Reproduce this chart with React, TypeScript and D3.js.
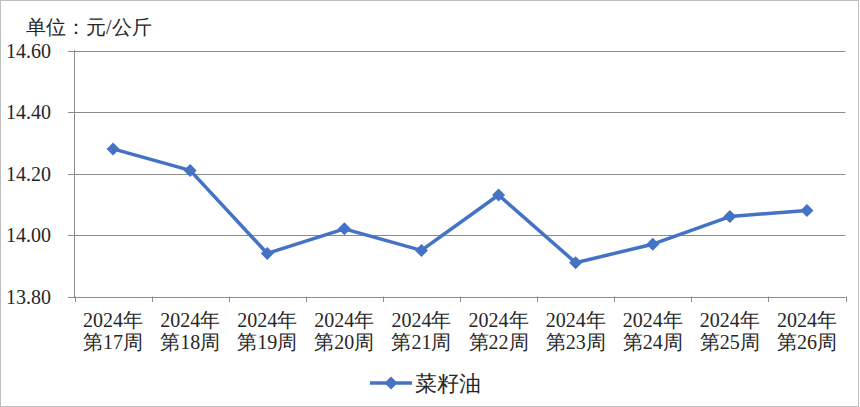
import React from "react";
import * as d3 from "d3";

const categories = ["2024年\n第17周", "2024年\n第18周", "2024年\n第19周", "2024年\n第20周", "2024年\n第21周", "2024年\n第22周", "2024年\n第23周", "2024年\n第24周", "2024年\n第25周", "2024年\n第26周"];
const values = [14.28, 14.21, 13.94, 14.02, 13.95, 14.13, 13.91, 13.97, 14.06, 14.08];
const yTicks = [13.8, 14.0, 14.2, 14.4, 14.6];
const seriesName = "菜籽油";
const unitLabel = "单位：元/公斤";

const W = 860, H = 407;
const FONT = '"Liberation Serif"';
const COLOR = "#4472C4";
const TXT = "#262626";

export default function App() {
  const x = d3.scaleBand().domain(categories).range([74.5, 845.5]).padding(0);
  const y = d3.scaleLinear().domain([13.8, 14.6]).range([296.5, 50.5]);
  const line = d3.line<number>().x((_, i) => x(categories[i])! + x.bandwidth() / 2).y(d => y(d));
  const diamond = (cx: number, cy: number, r: number) => `M${cx},${cy - r}L${cx + r},${cy}L${cx},${cy + r}L${cx - r},${cy}Z`;
  const boundaries = categories.map(c => x(c)!).concat([x.range()[1]]);
  const ts = (size: number): React.CSSProperties => ({ fontFamily: FONT, fontSize: size, fill: TXT });
  return (
    <svg width={W} height={H} style={{ position: "absolute", left: 0, top: 0, background: "#fff" }}>
      <rect x={0.5} y={0.5} width={W - 2} height={H - 1} fill="#fff" stroke="#BFBFBF" />
      <text x={26} y={34} style={ts(20)}>{unitLabel}</text>
      {yTicks.map(t => (
        <g key={t}>
          <line x1={68} x2={845.5} y1={Math.round(y(t)) + 0.5} y2={Math.round(y(t)) + 0.5} stroke="#8C8C8C" strokeWidth={1} />
          <text x={51} y={y(t)} dy="0.35em" textAnchor="end" style={ts(20)}>{t.toFixed(2)}</text>
        </g>
      ))}
      <line x1={74.5} x2={74.5} y1={50} y2={297} stroke="#8C8C8C" />
      {boundaries.map((b, i) => (
        <line key={i} x1={Math.round(b) + 0.5} x2={Math.round(b) + 0.5} y1={296.5} y2={302} stroke="#8C8C8C" />
      ))}
      {categories.map(c => {
        const [l1, l2] = c.split("\n");
        const cx = x(c)! + x.bandwidth() / 2;
        return (
          <text key={c} x={cx} textAnchor="middle" style={ts(20)}>
            <tspan x={cx} y={327}>{l1}</tspan>
            <tspan x={cx} y={349}>{l2}</tspan>
          </text>
        );
      })}
      <path d={line(values)!} fill="none" stroke={COLOR} strokeWidth={3.5} strokeLinejoin="round" />
      {values.map((v, i) => (
        <path key={i} d={diamond(x(categories[i])! + x.bandwidth() / 2, y(v), 6.5)} fill={COLOR} />
      ))}
      <line x1={370} x2={412} y1={383} y2={383} stroke={COLOR} strokeWidth={3.5} />
      <path d={diamond(391, 383, 6.5)} fill={COLOR} />
      <text x={415} y={383} dy="0.36em" style={ts(22)}>{seriesName}</text>
    </svg>
  );
}
